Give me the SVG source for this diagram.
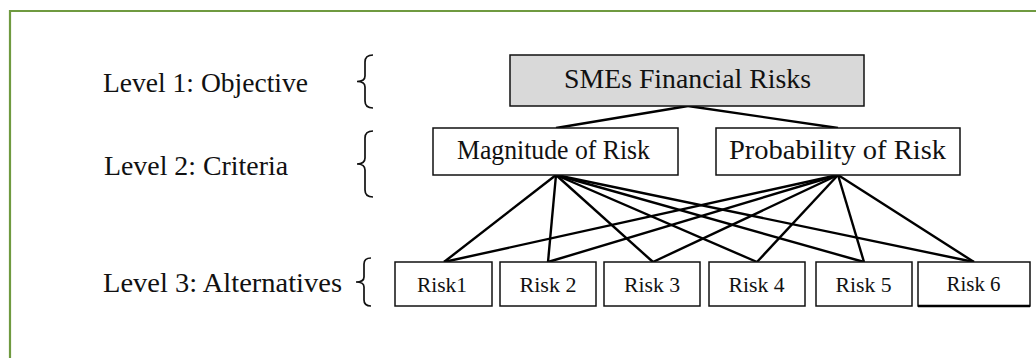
<svg xmlns="http://www.w3.org/2000/svg" width="1036" height="358" viewBox="0 0 1036 358">
<style>
.lbl{font-family:"Liberation Serif","Times New Roman",serif;font-size:27.5px;fill:#111}
.bt{font-family:"Liberation Serif","Times New Roman",serif;font-size:26.5px;fill:#111;text-anchor:middle}
.rt{font-family:"Liberation Serif","Times New Roman",serif;font-size:21px;fill:#111;text-anchor:middle}
.box{fill:#fff;stroke:#111;stroke-width:1.5}
.brace{fill:none;stroke:#111;stroke-width:1.7}
.con line{stroke:#000;stroke-width:2.4}
</style>
<rect width="1036" height="358" fill="#fff"/>
<path d="M10,358 L10,11 L1036,11" fill="none" stroke="#6f9a40" stroke-width="2.2"/>
<g id="labels">
<text class="lbl" x="103" y="92" textLength="205" lengthAdjust="spacingAndGlyphs">Level 1: Objective</text>
<text class="lbl" x="104" y="175" textLength="184" lengthAdjust="spacingAndGlyphs">Level 2: Criteria</text>
<text class="lbl" x="103" y="292" textLength="239" lengthAdjust="spacingAndGlyphs">Level 3: Alternatives</text>
</g>
<g id="braces">
<path class="brace" d="M373,55 Q365,55 365,62 L365,76 Q365,81.5 357,81.5 Q365,81.5 365,87 L365,101 Q365,108 373,108"/>
<path class="brace" d="M373,131 Q365,131 365,138 L365,158 Q365,164 357,164 Q365,164 365,170 L365,190 Q365,197 373,197"/>
<path class="brace" d="M371,258 Q364,258 364,264 L364,277 Q364,282 356,282 Q364,282 364,287 L364,300 Q364,306 371,306"/>
</g>
<g id="connectors" class="con">
<line x1="688" y1="106" x2="556" y2="128"/>
<line x1="688" y1="106" x2="838" y2="128"/>
<line x1="556" y1="175" x2="444" y2="262"/>
<line x1="556" y1="175" x2="548" y2="262"/>
<line x1="556" y1="175" x2="653" y2="262"/>
<line x1="556" y1="175" x2="757" y2="262"/>
<line x1="556" y1="175" x2="864" y2="262"/>
<line x1="556" y1="175" x2="974" y2="262"/>
<line x1="838" y1="175" x2="444" y2="262"/>
<line x1="838" y1="175" x2="548" y2="262"/>
<line x1="838" y1="175" x2="653" y2="262"/>
<line x1="838" y1="175" x2="757" y2="262"/>
<line x1="838" y1="175" x2="864" y2="262"/>
<line x1="838" y1="175" x2="974" y2="262"/>
</g>
<g id="objective">
<rect x="510" y="55" width="354" height="51" fill="#d9d9d9" stroke="#111" stroke-width="1.5"/>
<text class="bt" x="687.5" y="88" textLength="247" lengthAdjust="spacingAndGlyphs">SMEs Financial Risks</text>
</g>
<g id="magnitude">
<rect class="box" x="433" y="128" width="245" height="47"/>
<text class="bt" x="553.5" y="159" textLength="193" lengthAdjust="spacingAndGlyphs">Magnitude of Risk</text>
</g>
<g id="probability">
<rect class="box" x="716" y="128" width="244" height="47"/>
<text class="bt" x="837.5" y="159" textLength="217" lengthAdjust="spacingAndGlyphs">Probability of Risk</text>
</g>
<g id="risk1">
<rect class="box" x="395" y="262" width="97" height="44"/>
<text class="rt" x="442" y="292" textLength="50" lengthAdjust="spacingAndGlyphs">Risk1</text>
</g>
<g id="risk2">
<rect class="box" x="500" y="262" width="96" height="44"/>
<text class="rt" x="548" y="292" textLength="57" lengthAdjust="spacingAndGlyphs">Risk 2</text>
</g>
<g id="risk3">
<rect class="box" x="604" y="262" width="96" height="44"/>
<text class="rt" x="652" y="292" textLength="56" lengthAdjust="spacingAndGlyphs">Risk 3</text>
</g>
<g id="risk4">
<rect class="box" x="709" y="262" width="96" height="44"/>
<text class="rt" x="756.5" y="292" textLength="56" lengthAdjust="spacingAndGlyphs">Risk 4</text>
</g>
<g id="risk5">
<rect class="box" x="816" y="262" width="96" height="44"/>
<text class="rt" x="863.5" y="292" textLength="56" lengthAdjust="spacingAndGlyphs">Risk 5</text>
</g>
<g id="risk6">
<rect class="box" x="918" y="262" width="112" height="44"/>
<line x1="918" y1="306" x2="1030" y2="306" stroke="#000" stroke-width="2.6"/>
<text class="rt" x="973.5" y="291" textLength="54" lengthAdjust="spacingAndGlyphs">Risk 6</text>
</g>
</svg>
